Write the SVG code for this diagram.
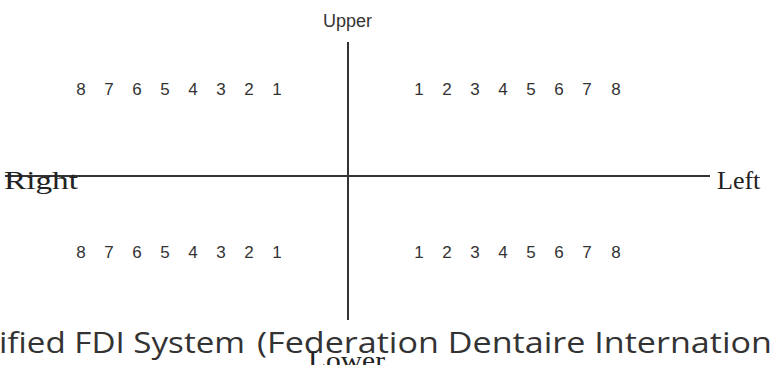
<svg xmlns="http://www.w3.org/2000/svg" width="770" height="365" viewBox="0 0 770 365">
<style>
.ax{stroke:#333;stroke-width:2;fill:none}
.num{font-family:"Liberation Sans",Arial,sans-serif;font-size:17px;fill:#333;text-anchor:middle}
.lbl{font-family:"Liberation Serif","Times New Roman",serif;font-size:26px;fill:#222}
.up{font-family:"Liberation Sans",Arial,sans-serif;font-size:18px;fill:#333}
.title{font-family:"Open Sans","Liberation Sans",sans-serif;font-size:29px;font-weight:500;fill:#333}
</style>
<rect width="770" height="365" fill="#fff"/>
<g id="connectors">
<line class="ax" x1="348" y1="42" x2="348" y2="320"/>
<line class="ax" x1="5" y1="176" x2="710" y2="176"/>
</g>
<g id="upper-label"><text class="up" x="323" y="27">Upper</text></g>
<g id="right-label"><text class="lbl" x="4" y="189" textLength="74" lengthAdjust="spacingAndGlyphs">Right</text></g>
<g id="left-label"><text class="lbl" x="717" y="189">Left</text></g>
<g id="upper-right-teeth">
<text class="num" x="81" y="95">8</text><text class="num" x="109" y="95">7</text><text class="num" x="137" y="95">6</text><text class="num" x="165" y="95">5</text><text class="num" x="193" y="95">4</text><text class="num" x="221" y="95">3</text><text class="num" x="249" y="95">2</text><text class="num" x="277" y="95">1</text>
</g>
<g id="upper-left-teeth">
<text class="num" x="419" y="95">1</text><text class="num" x="447" y="95">2</text><text class="num" x="475" y="95">3</text><text class="num" x="503" y="95">4</text><text class="num" x="531" y="95">5</text><text class="num" x="559" y="95">6</text><text class="num" x="587" y="95">7</text><text class="num" x="616" y="95">8</text>
</g>
<g id="lower-right-teeth">
<text class="num" x="81" y="258">8</text><text class="num" x="109" y="258">7</text><text class="num" x="137" y="258">6</text><text class="num" x="165" y="258">5</text><text class="num" x="193" y="258">4</text><text class="num" x="221" y="258">3</text><text class="num" x="249" y="258">2</text><text class="num" x="277" y="258">1</text>
</g>
<g id="lower-left-teeth">
<text class="num" x="419" y="258">1</text><text class="num" x="447" y="258">2</text><text class="num" x="475" y="258">3</text><text class="num" x="503" y="258">4</text><text class="num" x="531" y="258">5</text><text class="num" x="559" y="258">6</text><text class="num" x="587" y="258">7</text><text class="num" x="616" y="258">8</text>
</g>
<g id="title">
<text class="title" x="-1" y="353" textLength="246" lengthAdjust="spacingAndGlyphs">ified FDI System</text>
<text class="title" x="257" y="353" textLength="515" lengthAdjust="spacingAndGlyphs">(Federation Dentaire Internation</text>
</g>
<g id="lower-label"><text class="lbl" x="308" y="369" font-size="24" textLength="77" lengthAdjust="spacingAndGlyphs">Lower</text></g>
</svg>
